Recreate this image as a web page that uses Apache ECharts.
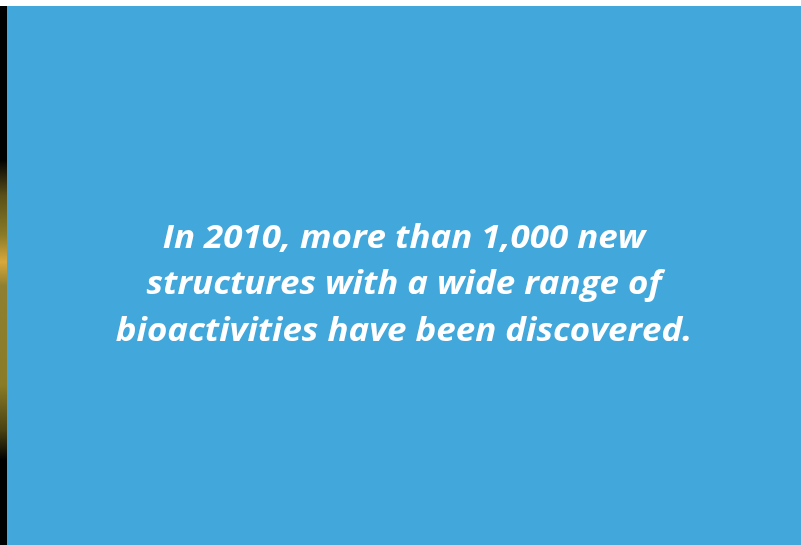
<!DOCTYPE html>
<html><head><meta charset="utf-8">
<script src="https://cdn.jsdelivr.net/npm/echarts@6/dist/echarts.min.js"></script>
<style>html,body{margin:0;padding:0;background:#fff}#c{width:801px;height:545px}</style>
</head><body><div id="c"></div>
<script>
var textLines = ["In 2010, more than 1,000 new", "structures with a wide range of", "bioactivities have been discovered."];
var chart = echarts.init(document.getElementById('c'), null, {renderer: 'canvas'});
var lineCenters = [239, 285, 332];
var graphics = [
  {type: 'rect', shape: {x: 0, y: 0, width: 801, height: 545}, style: {fill: '#ffffff'}, silent: true},
  {type: 'rect', shape: {x: 0, y: 6, width: 7, height: 539}, style: {fill: '#000000'}, silent: true},
  {type: 'rect', shape: {x: 0, y: 160, width: 7, height: 300}, silent: true,
   style: {fill: new echarts.graphic.LinearGradient(0, 0, 0, 1, [
     {offset: 0, color: 'rgba(0,0,0,1)'},
     {offset: 0.12, color: '#5a5018'},
     {offset: 0.25, color: '#8a7b28'},
     {offset: 0.34, color: '#d8a83c'},
     {offset: 0.42, color: '#8e8030'},
     {offset: 0.75, color: '#8a7b28'},
     {offset: 0.9, color: '#4a4212'},
     {offset: 1, color: 'rgba(0,0,0,1)'}
   ])}},
  {type: 'rect', shape: {x: 7, y: 6, width: 794, height: 539}, style: {fill: '#42A7DA'}, silent: true}
];
textLines.forEach(function (t, i) {
  graphics.push({type: 'text', x: 404, y: lineCenters[i], scaleX: 1.09, silent: true,
    style: {text: t, fill: '#ffffff', font: 'italic bold 32px "Open Sans", sans-serif',
      textAlign: 'center', textVerticalAlign: 'middle'}});
});
chart.setOption({animation: false, graphic: graphics});
</script></body></html>
